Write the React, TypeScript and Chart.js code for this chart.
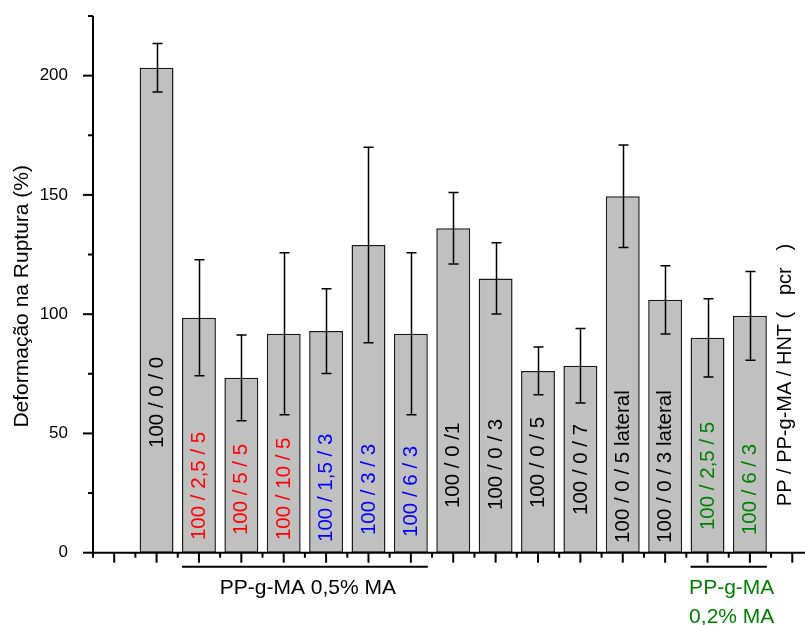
import React, { useEffect, useRef } from 'react';
import { Chart, registerables } from 'chart.js';

Chart.register(...registerables);

// ---- data ----
const categories = [
  '100 / 0 / 0',
  '100 / 2,5 / 5',
  '100 / 5 / 5',
  '100 / 10 / 5',
  '100 / 1,5 / 3',
  '100 / 3 / 3',
  '100 / 6 / 3',
  '100 / 0 /1',
  '100 / 0 / 3',
  '100 / 0 / 5',
  '100 / 0 / 7',
  '100 / 0 / 5 lateral',
  '100 / 0 / 3 lateral',
  '100 / 2,5 / 5',
  '100 / 6 / 3',
];
const positions = [1, 2, 3, 4, 5, 6, 7, 8, 9, 10, 11, 12, 13, 14, 15];
const means = [203.3, 98.5, 73.3, 91.8, 92.9, 129.0, 91.8, 136.0, 115.0, 76.2, 78.4, 149.4, 106.0, 90.1, 99.3];
const errors = [10.2, 24.3, 18.0, 34.0, 17.8, 41.0, 34.0, 15.0, 14.9, 10.0, 15.6, 21.5, 14.3, 16.4, 18.6];
const groups = ['ref', 'ma05a', 'ma05a', 'ma05a', 'ma05b', 'ma05b', 'ma05b', 'ref', 'ref', 'ref', 'ref', 'ref', 'ref', 'ma02', 'ma02'];
// value (y units) at which each in-bar label starts
const labelStart = [43.9, 5.3, 7.4, 5.3, 4.5, 7.4, 6.6, 18.7, 17.9, 18.7, 15.8, 4.1, 4.1, 9.5, 7.4];
const yTickValues = [0, 25, 50, 75, 100, 125, 150, 175, 200, 225];
const yLabelValues = [0, 50, 100, 150, 200];
const bracketGroups = [
  { from: 2, to: 7, lines: ['PP-g-MA 0,5% MA'], color: '#000000' },
  { from: 14, to: 15, lines: ['PP-g-MA', '0,2% MA'], color: '#008000' },
];
const yTitle = 'Deformação na Ruptura (%)';
const rightTitle = 'PP / PP-g-MA / HNT (   pcr   )';

// ---- styles ----
const FONT = "'Liberation Sans', Arial, sans-serif";
const groupColors: Record<string, string> = {
  ref: '#000000',
  ma05a: '#ff0000',
  ma05b: '#0000ff',
  ma02: '#008000',
};

const overlay = {
  id: 'overlay',
  afterDatasetsDraw(chart: any) {
    const { ctx, scales, chartArea: ca } = chart;
    const x = scales.x;
    const y = scales.y;
    ctx.save();

    // error bars
    ctx.strokeStyle = '#000';
    ctx.lineWidth = 1.5;
    means.forEach((m, i) => {
      const px = Math.round(x.getPixelForValue(positions[i])) + 0.5;
      const top = y.getPixelForValue(m + errors[i]);
      const bot = y.getPixelForValue(m - errors[i]);
      ctx.beginPath();
      ctx.moveTo(px, top);
      ctx.lineTo(px, bot);
      ctx.moveTo(px - 5, top);
      ctx.lineTo(px + 5, top);
      ctx.moveTo(px - 5, bot);
      ctx.lineTo(px + 5, bot);
      ctx.stroke();
    });

    // in-bar labels
    ctx.font = `20.5px ${FONT}`;
    ctx.textAlign = 'left';
    ctx.textBaseline = 'middle';
    categories.forEach((c, i) => {
      const px = x.getPixelForValue(positions[i]);
      const py = y.getPixelForValue(labelStart[i]);
      ctx.save();
      ctx.translate(px + 0.5, py);
      ctx.rotate(-Math.PI / 2);
      ctx.fillStyle = groupColors[groups[i]];
      ctx.fillText(c, 0, 0);
      ctx.restore();
    });

    // axes
    ctx.strokeStyle = '#000';
    ctx.lineWidth = 2;
    const y0 = y.getPixelForValue(0);
    ctx.beginPath();
    ctx.moveTo(ca.left, ca.top);
    ctx.lineTo(ca.left, y0);
    ctx.lineTo(ca.right, y0);
    ctx.stroke();
    // y ticks
    yTickValues.forEach((v) => {
      const py = y.getPixelForValue(v);
      const len = v % 50 === 0 ? 10 : 5;
      ctx.beginPath();
      ctx.moveTo(ca.left - len, py);
      ctx.lineTo(ca.left, py);
      ctx.stroke();
    });
    // x ticks (major at integers, minor at halves)
    for (let k = Math.ceil(x.min * 2); k <= Math.floor(x.max * 2); k++) {
      const v = k / 2;
      const px = x.getPixelForValue(v);
      const len = k % 2 === 0 ? 10 : 5;
      ctx.beginPath();
      ctx.moveTo(px, y0);
      ctx.lineTo(px, y0 + len);
      ctx.stroke();
    }

    // brackets and group names
    bracketGroups.forEach((g) => {
      const x1 = x.getPixelForValue(g.from - 0.4);
      const x2 = x.getPixelForValue(g.to + 0.4);
      const by = y0 + 14;
      ctx.strokeStyle = '#000';
      ctx.lineWidth = 2;
      ctx.beginPath();
      ctx.moveTo(x1, by);
      ctx.lineTo(x2, by);
      ctx.stroke();
      ctx.fillStyle = g.color;
      ctx.font = `21px ${FONT}`;
      ctx.textAlign = 'center';
      ctx.textBaseline = 'alphabetic';
      g.lines.forEach((t, j) => {
        ctx.fillText(t, (x1 + x2) / 2 + 3, y0 + 41.5 + j * 29);
      });
    });

    // y title
    ctx.fillStyle = '#000';
    ctx.font = `21px ${FONT}`;
    ctx.textAlign = 'center';
    ctx.textBaseline = 'middle';
    ctx.save();
    ctx.translate(22, y.getPixelForValue(107.5));
    ctx.rotate(-Math.PI / 2);
    ctx.fillText(yTitle, 0, 0);
    ctx.restore();

    // right title
    ctx.font = `20px ${FONT}`;
    ctx.textAlign = 'left';
    ctx.save();
    ctx.translate(785.5, y.getPixelForValue(19.5));
    ctx.rotate(-Math.PI / 2);
    ctx.fillText(rightTitle, 0, 0);
    ctx.restore();

    ctx.restore();
  },
};

export default function App() {
  const ref = useRef<HTMLCanvasElement>(null);
  useEffect(() => {
    if (!ref.current) return;
    const chart = new Chart(ref.current, {
      type: 'bar',
      data: {
        datasets: [
          {
            data: positions.map((p, i) => ({ x: p, y: means[i] })),
            backgroundColor: '#c0c0c0',
            borderColor: '#1a1a1a',
            borderWidth: 1.5,
            borderSkipped: false,
            barPercentage: 0.8,
            categoryPercentage: 1,
          },
        ],
      },
      options: {
        responsive: false,
        animation: false,
        devicePixelRatio: 1,
        layout: { padding: { top: 16, left: 0, right: 0, bottom: 0 } },
        plugins: { legend: { display: false }, tooltip: { enabled: false } },
        scales: {
          x: {
            type: 'linear',
            offset: false,
            min: -0.5,
            max: 16.3,
            grid: { display: false, offset: false },
            border: { display: false },
            ticks: { display: false },
            afterFit: (s: any) => {
              s.height = 72.3;
              s.paddingLeft = 0;
              s.paddingRight = 0;
            },
          },
          y: {
            min: 0,
            max: 225,
            grid: { display: false },
            border: { display: false },
            afterBuildTicks: (s: any) => {
              s.ticks = yLabelValues.map((v) => ({ value: v }));
            },
            ticks: {
              autoSkip: false,
              padding: 17,
              color: '#000',
              font: { family: FONT, size: 17 },
            },
            afterFit: (s: any) => {
              s.width = 93;
              s.paddingTop = 0;
              s.paddingBottom = 0;
            },
          },
        },
      },
      plugins: [overlay],
    });
    return () => chart.destroy();
  }, []);
  return (
    <div style={{ position: 'absolute', left: 0, top: 0, width: 805, height: 625, background: '#fff' }}>
      <canvas ref={ref} width={805} height={625} style={{ display: 'block' }} />
    </div>
  );
}
